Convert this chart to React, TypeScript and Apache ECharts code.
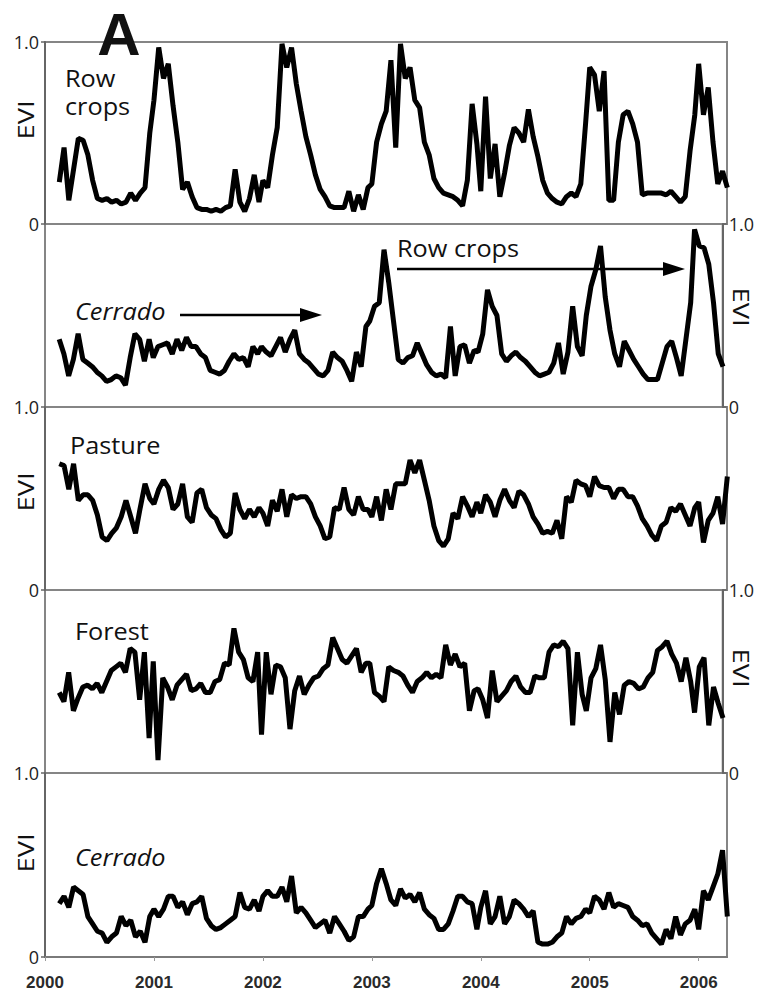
import React, { useEffect, useRef } from "react";
import * as echarts from "echarts";

// MODIS 16-day composites: 2000 DOY 49 .. 2006 DOY 97
const years = [2000, 2001, 2002, 2003, 2004, 2005, 2006];
const firstDoy = 49;
const lastDoy = 97;

function compositeTimes(): number[] {
  const t: number[] = [];
  for (const y of years) {
    const start = y === 2000 ? firstDoy : 1;
    const end = y === 2006 ? lastDoy : 353;
    const len = y % 4 === 0 ? 366 : 365;
    for (let d = start; d <= end; d += 16) t.push(y + (d - 1) / len);
  }
  return t;
}

const rowCrops = [
  0.23, 0.42, 0.13, 0.30, 0.47, 0.46, 0.38, 0.24, 0.14, 0.13, 0.14, 0.12, 0.13, 0.11, 0.12, 0.17, 0.13, 0.17, 0.20, 0.50,
  0.68, 0.97, 0.80, 0.88, 0.65, 0.45, 0.19, 0.23, 0.15, 0.09, 0.08, 0.08, 0.07, 0.08, 0.07, 0.09, 0.10, 0.30, 0.12, 0.07, 0.14, 0.27, 0.12,
  0.24, 0.20, 0.38, 0.53, 0.99, 0.86, 0.97, 0.77, 0.62, 0.48, 0.38, 0.27, 0.19, 0.15, 0.10, 0.09, 0.09, 0.09, 0.18, 0.07, 0.16, 0.08, 0.20,
  0.22, 0.45, 0.55, 0.62, 0.90, 0.42, 0.99, 0.80, 0.86, 0.68, 0.64, 0.45, 0.38, 0.25, 0.20, 0.17, 0.16, 0.15, 0.13, 0.10, 0.24, 0.66, 0.44,
  0.18, 0.70, 0.25, 0.44, 0.15, 0.28, 0.43, 0.53, 0.50, 0.45, 0.63, 0.48, 0.37, 0.24, 0.17, 0.14, 0.12, 0.11, 0.15, 0.17, 0.15, 0.22, 0.55,
  0.86, 0.82, 0.62, 0.84, 0.13, 0.13, 0.45, 0.60, 0.62, 0.55, 0.45, 0.16, 0.17, 0.17, 0.17, 0.17, 0.16, 0.18, 0.15, 0.12, 0.15, 0.40, 0.60,
  0.88, 0.60, 0.75, 0.45, 0.22, 0.29, 0.20,
];

const cerradoToCrops = [
  0.37, 0.29, 0.17, 0.26, 0.40, 0.26, 0.24, 0.22, 0.19, 0.17, 0.14, 0.15, 0.17, 0.16, 0.12, 0.27, 0.40, 0.37, 0.25, 0.37,
  0.27, 0.33, 0.34, 0.35, 0.29, 0.37, 0.31, 0.38, 0.33, 0.33, 0.29, 0.27, 0.20, 0.19, 0.18, 0.20, 0.25, 0.29, 0.26, 0.27, 0.22, 0.33, 0.29,
  0.33, 0.30, 0.28, 0.33, 0.38, 0.30, 0.37, 0.42, 0.29, 0.26, 0.24, 0.21, 0.18, 0.17, 0.20, 0.30, 0.27, 0.25, 0.20, 0.14, 0.30, 0.22, 0.44,
  0.47, 0.55, 0.57, 0.86, 0.68, 0.47, 0.26, 0.24, 0.27, 0.28, 0.35, 0.29, 0.23, 0.19, 0.17, 0.18, 0.16, 0.44, 0.17, 0.33, 0.34, 0.24, 0.31,
  0.30, 0.40, 0.64, 0.55, 0.50, 0.29, 0.25, 0.28, 0.30, 0.27, 0.25, 0.22, 0.19, 0.17, 0.18, 0.19, 0.24, 0.35, 0.18, 0.30, 0.55, 0.33, 0.28,
  0.50, 0.66, 0.75, 0.88, 0.60, 0.42, 0.29, 0.22, 0.36, 0.31, 0.26, 0.22, 0.18, 0.15, 0.15, 0.15, 0.24, 0.33, 0.36, 0.27, 0.17, 0.37, 0.57,
  0.97, 0.88, 0.87, 0.78, 0.57, 0.29, 0.22,
];

const pasture = [
  0.69, 0.68, 0.55, 0.69, 0.49, 0.52, 0.52, 0.49, 0.41, 0.29, 0.27, 0.31, 0.34, 0.40, 0.49, 0.40, 0.31, 0.45, 0.58, 0.50,
  0.47, 0.55, 0.60, 0.56, 0.44, 0.47, 0.58, 0.40, 0.37, 0.53, 0.55, 0.45, 0.41, 0.39, 0.33, 0.29, 0.31, 0.53, 0.44, 0.39, 0.44, 0.40, 0.45,
  0.42, 0.35, 0.49, 0.43, 0.55, 0.40, 0.52, 0.50, 0.51, 0.51, 0.47, 0.40, 0.35, 0.28, 0.29, 0.45, 0.44, 0.56, 0.44, 0.41, 0.51, 0.44, 0.44,
  0.40, 0.51, 0.38, 0.55, 0.44, 0.58, 0.58, 0.58, 0.71, 0.64, 0.71, 0.60, 0.49, 0.35, 0.27, 0.24, 0.28, 0.42, 0.39, 0.51, 0.46, 0.40, 0.48,
  0.42, 0.52, 0.48, 0.40, 0.49, 0.55, 0.49, 0.45, 0.54, 0.52, 0.47, 0.40, 0.36, 0.31, 0.32, 0.31, 0.38, 0.28, 0.51, 0.48, 0.60, 0.58, 0.57,
  0.51, 0.62, 0.57, 0.56, 0.56, 0.50, 0.55, 0.55, 0.51, 0.51, 0.46, 0.39, 0.35, 0.30, 0.27, 0.35, 0.37, 0.45, 0.43, 0.47, 0.41, 0.35, 0.45,
  0.48, 0.26, 0.38, 0.42, 0.51, 0.36, 0.62,
];

const forest = [
  0.44, 0.39, 0.55, 0.34, 0.41, 0.47, 0.48, 0.46, 0.49, 0.44, 0.50, 0.56, 0.58, 0.60, 0.55, 0.68, 0.66, 0.40, 0.66, 0.19,
  0.61, 0.07, 0.52, 0.47, 0.40, 0.48, 0.51, 0.54, 0.45, 0.46, 0.49, 0.44, 0.44, 0.50, 0.51, 0.60, 0.59, 0.79, 0.66, 0.62, 0.52, 0.50, 0.66,
  0.21, 0.66, 0.43, 0.59, 0.58, 0.52, 0.24, 0.45, 0.53, 0.43, 0.48, 0.52, 0.53, 0.57, 0.59, 0.74, 0.68, 0.62, 0.60, 0.64, 0.68, 0.55, 0.60,
  0.60, 0.44, 0.42, 0.39, 0.58, 0.56, 0.55, 0.53, 0.48, 0.44, 0.50, 0.52, 0.55, 0.52, 0.54, 0.52, 0.70, 0.59, 0.65, 0.58, 0.60, 0.34, 0.45,
  0.46, 0.40, 0.30, 0.56, 0.39, 0.42, 0.45, 0.50, 0.53, 0.47, 0.44, 0.44, 0.53, 0.52, 0.52, 0.66, 0.70, 0.69, 0.72, 0.68, 0.26, 0.66, 0.43,
  0.34, 0.52, 0.57, 0.70, 0.51, 0.17, 0.44, 0.32, 0.48, 0.50, 0.49, 0.46, 0.47, 0.52, 0.55, 0.67, 0.69, 0.72, 0.65, 0.60, 0.50, 0.63, 0.50,
  0.33, 0.58, 0.63, 0.26, 0.47, 0.38, 0.30,
];

const cerrado = [
  0.29, 0.33, 0.27, 0.38, 0.36, 0.34, 0.22, 0.18, 0.14, 0.13, 0.08, 0.11, 0.13, 0.22, 0.17, 0.20, 0.11, 0.14, 0.08, 0.22,
  0.26, 0.22, 0.26, 0.33, 0.33, 0.27, 0.30, 0.23, 0.29, 0.30, 0.33, 0.21, 0.17, 0.15, 0.16, 0.18, 0.20, 0.22, 0.35, 0.27, 0.26, 0.31, 0.25,
  0.33, 0.36, 0.33, 0.33, 0.38, 0.30, 0.44, 0.24, 0.27, 0.24, 0.20, 0.16, 0.18, 0.20, 0.13, 0.22, 0.18, 0.14, 0.09, 0.11, 0.22, 0.22, 0.26,
  0.28, 0.40, 0.48, 0.40, 0.31, 0.28, 0.37, 0.32, 0.34, 0.30, 0.35, 0.26, 0.23, 0.21, 0.15, 0.15, 0.18, 0.25, 0.33, 0.33, 0.30, 0.29, 0.15,
  0.27, 0.36, 0.18, 0.22, 0.33, 0.18, 0.22, 0.31, 0.29, 0.26, 0.22, 0.25, 0.08, 0.07, 0.07, 0.08, 0.11, 0.13, 0.22, 0.18, 0.21, 0.22, 0.26,
  0.24, 0.33, 0.31, 0.26, 0.35, 0.27, 0.29, 0.28, 0.27, 0.22, 0.20, 0.17, 0.18, 0.13, 0.10, 0.07, 0.15, 0.10, 0.22, 0.12, 0.18, 0.20, 0.26,
  0.15, 0.36, 0.31, 0.38, 0.45, 0.58, 0.22,
];

const panelSeries = [rowCrops, cerradoToCrops, pasture, forest, cerrado];
const yTickLabels = ["0", "1.0"];
const yAxisName = "EVI";
const panelLabelText = ["Row", "crops", "Cerrado", "Row crops", "Pasture", "Forest", "Cerrado"];
const figureLetter = "A";

export default function App() {
  const ref = useRef<HTMLDivElement>(null);

  useEffect(() => {
    if (!ref.current) return;
    const chart = echarts.init(ref.current, undefined, { renderer: "svg" });
    const times = compositeTimes();

    const tops = [42, 224, 407, 590, 773];
    const heights = [182, 183, 183, 183, 184];
    const sides = ["left", "right", "left", "right", "left"];
    const gridLeft = 45;
    const gridWidth = 682;

    const labelFont = '"Open Sans", sans-serif';

    const textEl = (text: string, x: number, y: number, opts: any = {}) => ({
      type: "text",
      x,
      y,
      scaleX: opts.scaleX ?? 1.1,
      scaleY: opts.scaleY ?? 1,
      rotation: opts.rotation ?? 0,
      z: 10,
      style: {
        text,
        x: 0,
        y: 0,
        fill: "#111",
        fontFamily: opts.fontFamily ?? labelFont,
        fontSize: opts.fontSize ?? 23,
        fontStyle: opts.italic ? "italic" : "normal",
        fontWeight: opts.bold ? "bold" : "normal",
        align: opts.align ?? "left",
        verticalAlign: "middle",
      },
    });

    const arrow = (x1: number, x2: number, y: number) => [
      {
        type: "line",
        z: 10,
        shape: { x1, y1: y, x2: x2 - 18, y2: y },
        style: { stroke: "#000", lineWidth: 2.5 },
      },
      {
        type: "polygon",
        z: 10,
        shape: { points: [[x2, y], [x2 - 22, y - 7], [x2 - 22, y + 7]] },
        style: { fill: "#000" },
      },
    ];

    const graphic: any[] = [
      textEl(figureLetter, 119, 34, { fontFamily: '"Liberation Sans", Arial, sans-serif', fontSize: 60, bold: true, align: "center", scaleX: 1, scaleY: 1 }),
      textEl(panelLabelText[0], 65, 78),
      textEl(panelLabelText[1], 65, 106),
      textEl(panelLabelText[2], 75, 311, { italic: true }),
      ...arrow(180, 322, 315),
      textEl(panelLabelText[3], 397, 248),
      ...arrow(397, 685, 269),
      textEl(panelLabelText[4], 70, 445),
      textEl(panelLabelText[5], 75, 631),
      textEl(panelLabelText[6], 75, 857, { italic: true }),
      textEl(yAxisName, 26, 120, { fontSize: 21, scaleX: 1.3, rotation: Math.PI / 2, align: "center" }),
      textEl(yAxisName, 741, 307, { fontSize: 21, scaleX: 1.3, rotation: -Math.PI / 2, align: "center" }),
      textEl(yAxisName, 26, 492, { fontSize: 21, scaleX: 1.3, rotation: Math.PI / 2, align: "center" }),
      textEl(yAxisName, 741, 668, { fontSize: 21, scaleX: 1.3, rotation: -Math.PI / 2, align: "center" }),
      textEl(yAxisName, 26, 853, { fontSize: 21, scaleX: 1.3, rotation: Math.PI / 2, align: "center" }),
    ];

    const option: any = {
      animation: false,
      backgroundColor: "#fff",
      grid: tops.map((top, i) => ({
        left: gridLeft,
        width: gridWidth,
        top,
        height: heights[i],
        show: true,
        borderColor: "#858585",
        borderWidth: 2,
        backgroundColor: "transparent",
      })),
      xAxis: tops.map((_, i) => {
        const bottom = i === tops.length - 1;
        return {
          type: "value",
          gridIndex: i,
          min: 2000,
          max: 2006.26,
          interval: 1,
          splitLine: { show: false },
          axisLine: { show: bottom, onZero: false, lineStyle: { color: "#7a7a7a", width: 2 } },
          axisTick: { show: bottom, length: 4, customValues: years, lineStyle: { color: "#9a9a9a", width: 1 } },
          axisLabel: {
            show: bottom,
            customValues: years,
            margin: 17,
            fontFamily: '"Liberation Sans", Arial, sans-serif',
            fontWeight: "bold",
            fontSize: 17,
            color: "#2a2a2a",
            formatter: (v: number) => String(Math.round(v)),
          },
        };
      }),
      yAxis: tops.map((_, i) => ({
        type: "value",
        gridIndex: i,
        min: 0,
        max: 1,
        interval: 1,
        position: sides[i],
        splitLine: { show: false },
        axisLine: { show: true, lineStyle: { color: "#666", width: 2 } },
        axisTick: { show: true, length: 4, lineStyle: { color: "#666", width: 1.5 } },
        axisLabel: {
          margin: 6,
          fontFamily: labelFont,
          fontSize: 18,
          color: "#222",
          formatter: (v: number) => (v === 0 ? yTickLabels[0] : yTickLabels[1]),
        },
      })),
      series: panelSeries.map((vals, i) => ({
        type: "line",
        xAxisIndex: i,
        yAxisIndex: i,
        data: times.map((t, k) => [t, vals[k]]),
        symbol: "none",
        clip: true,
        lineStyle: { color: "#000", width: 5 },
      })),
      graphic,
    };

    chart.setOption(option);
    return () => chart.dispose();
  }, []);

  return (
    <div
      ref={ref}
      style={{ position: "absolute", left: 0, top: 0, width: 757, height: 994, background: "#fff" }}
    />
  );
}
